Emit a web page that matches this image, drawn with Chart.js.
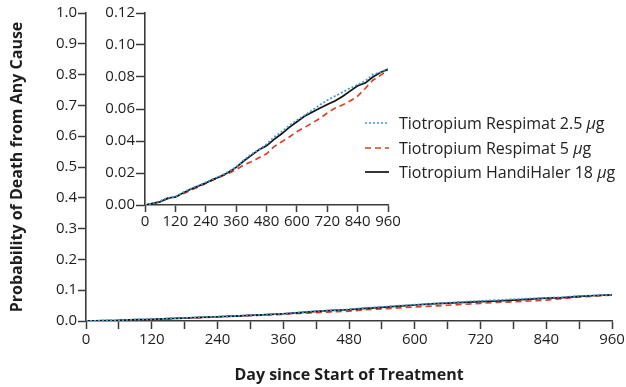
<!DOCTYPE html>
<html>
<head>
<meta charset="utf-8">
<script src="https://cdn.jsdelivr.net/npm/chart.js@4.4.1/dist/chart.umd.min.js"></script>
<style>
  body { margin: 0; background: #fff; }
  #wrap { position: relative; width: 626px; height: 387px; }
  #wrap canvas { position: absolute; left: 0; top: 0; }
  #legend { position: absolute; left: 365px; top: 111px; font-family: 'Open Sans', sans-serif; font-size: 16px; color: #222; }
  #legend .row { display: flex; align-items: center; height: 24.5px; white-space: nowrap; }
  #legend svg { margin-right: 10px; }
</style>
</head>
<body>
<div id="wrap">
  <canvas id="main-chart" width="626" height="387"></canvas>
  <canvas id="inset-chart" width="626" height="387"></canvas>
  <div id="legend"></div>
</div>
<script>
// Données (jours depuis le début du traitement)
const days = [0, 30, 60, 90, 120, 150, 180, 210, 240, 270, 300, 330, 360, 390, 420, 450, 480,
  510, 540, 570, 600, 630, 660, 690, 720, 750, 780, 810, 840, 870, 900, 930, 960];

// Probabilité cumulée de décès
const respimat25 = [0, 0.001, 0.0025, 0.0045, 0.0052, 0.0078, 0.0102, 0.012, 0.0142, 0.0163, 0.0183,
  0.0208, 0.0238, 0.028, 0.0318, 0.0345, 0.038, 0.0425, 0.0458, 0.0497, 0.053, 0.056, 0.0592,
  0.0625, 0.0655, 0.068, 0.0705, 0.073, 0.0752, 0.0775, 0.0815, 0.083, 0.0852];
const respimat5 = [0, 0.0008, 0.002, 0.004, 0.005, 0.007, 0.0092, 0.0112, 0.0135, 0.0158, 0.0178,
  0.0198, 0.022, 0.025, 0.027, 0.0295, 0.032, 0.0365, 0.0395, 0.0425, 0.0458, 0.0485, 0.0512,
  0.054, 0.0575, 0.0605, 0.0625, 0.065, 0.068, 0.0728, 0.078, 0.081, 0.0842];
const handihaler = [0, 0.001, 0.002, 0.0043, 0.005, 0.0075, 0.0098, 0.0118, 0.0138, 0.016, 0.018,
  0.0205, 0.0235, 0.0275, 0.031, 0.0345, 0.037, 0.041, 0.0445, 0.0485, 0.052, 0.0555, 0.058,
  0.0605, 0.0628, 0.065, 0.0678, 0.0712, 0.0745, 0.0762, 0.08, 0.0828, 0.0848];

const seriesNames = ['Tiotropium Respimat 2.5 μg', 'Tiotropium Respimat 5 μg', 'Tiotropium HandiHaler 18 μg'];
const seriesColors = ['#3b9bd6', '#d8412c', '#111111'];
const seriesDashes = [[2, 2], [6, 4], []];
const seriesValues = [respimat25, respimat5, handihaler];

// Axes
const xMax = 960;
const mainYMax = 1.0;
const insetYMax = 0.12;

const FONT = "'Open Sans', sans-serif";
const AXIS_COLOR = '#3a3a3a';
const TEXT_COLOR = '#1e1e1e';

function buildDatasets() {
  return seriesValues.map((values, i) => ({
    label: seriesNames[i],
    data: days.map((d, k) => ({ x: d, y: values[k] })),
    borderColor: seriesColors[i],
    borderDash: seriesDashes[i],
    borderWidth: 1.7,
    pointRadius: 0,
    fill: false,
    tension: 0,
    order: [0, 2, 1][i]
  }));
}

function axisBase() {
  return {
    grid: { drawOnChartArea: false, drawTicks: true, tickColor: AXIS_COLOR, tickWidth: 1.5 },
    border: { display: true, color: AXIS_COLOR, width: 1.6 },
    ticks: { color: TEXT_COLOR, font: { family: FONT, size: 15 }, autoSkip: false, maxRotation: 0 }
  };
}

// Graphique principal
function initializeMainChart(chartId) {
  const canvas = document.getElementById(chartId);
  if (!canvas) return;
  const x = axisBase();
  x.type = 'linear';
  x.min = 0;
  x.max = xMax;
  x.grid.tickLength = 8;
  x.ticks.stepSize = 60;
  x.ticks.padding = 2;
  x.ticks.callback = v => (v % 120 === 0 ? String(v) : '');
  x.title = { display: true, text: 'Day since Start of Treatment', color: TEXT_COLOR,
    font: { family: FONT, size: 16, weight: 'bold' }, padding: { top: 0, bottom: 2 } };
  x.afterFit = s => { s.height = 66; s.paddingLeft = 0; s.paddingRight = 0; };

  const y = axisBase();
  y.min = 0;
  y.max = mainYMax;
  y.grid.tickLength = 8;
  y.ticks.stepSize = 0.1;
  y.ticks.padding = 1;
  y.ticks.callback = v => v.toFixed(1);
  y.title = { display: true, text: 'Probability of Death from Any Cause', color: TEXT_COLOR,
    font: { family: FONT, size: 16, weight: 'bold' }, padding: { top: 8, bottom: 0 } };
  y.afterFit = s => { s.width = 86; s.paddingTop = 0; s.paddingBottom = 0; };

  canvas.chart = new Chart(canvas.getContext('2d'), {
    type: 'line',
    data: { datasets: buildDatasets() },
    options: {
      responsive: false,
      animation: false,
      layout: { padding: { left: 0, right: 14, top: 13, bottom: 0 } },
      plugins: { legend: { display: false }, tooltip: { enabled: false } },
      scales: { x, y }
    }
  });
}

// Graphique en médaillon (zoom sur 0–0.12)
function initializeInsetChart(chartId) {
  const canvas = document.getElementById(chartId);
  if (!canvas) return;
  const x = axisBase();
  x.type = 'linear';
  x.min = 0;
  x.max = xMax;
  x.grid.tickLength = 7;
  x.ticks.stepSize = 120;
  x.ticks.padding = 1;
  x.afterFit = s => { s.height = 30; s.paddingLeft = 0; s.paddingRight = 0; };

  const y = axisBase();
  y.min = 0;
  y.max = insetYMax;
  y.grid.tickLength = 9;
  y.ticks.stepSize = 0.02;
  y.ticks.padding = 1;
  y.ticks.callback = v => v.toFixed(2);
  y.afterFit = s => { s.width = 145; s.paddingTop = 0; s.paddingBottom = 0; };

  canvas.chart = new Chart(canvas.getContext('2d'), {
    type: 'line',
    data: { datasets: buildDatasets() },
    options: {
      responsive: false,
      animation: false,
      layout: { padding: { left: 0, right: 238, top: 13, bottom: 152 } },
      plugins: { legend: { display: false }, tooltip: { enabled: false } },
      scales: { x, y }
    }
  });
}

// Légende HTML (μ en italique)
function buildLegend() {
  const box = document.getElementById('legend');
  seriesNames.forEach((name, i) => {
    const row = document.createElement('div');
    row.className = 'row';
    const dash = seriesDashes[i].length ? seriesDashes[i].join(' ') : 'none';
    row.innerHTML = '<svg width="24" height="4"><line x1="0" y1="2" x2="24" y2="2" stroke="' + seriesColors[i] +
      '" stroke-width="1.7" stroke-dasharray="' + dash + '"/></svg>' +
      '<span>' + name.replace('μ', '<i>μ</i>') + '</span>';
    box.appendChild(row);
  });
}

initializeMainChart('main-chart');
initializeInsetChart('inset-chart');
buildLegend();
</script>
</body>
</html>
